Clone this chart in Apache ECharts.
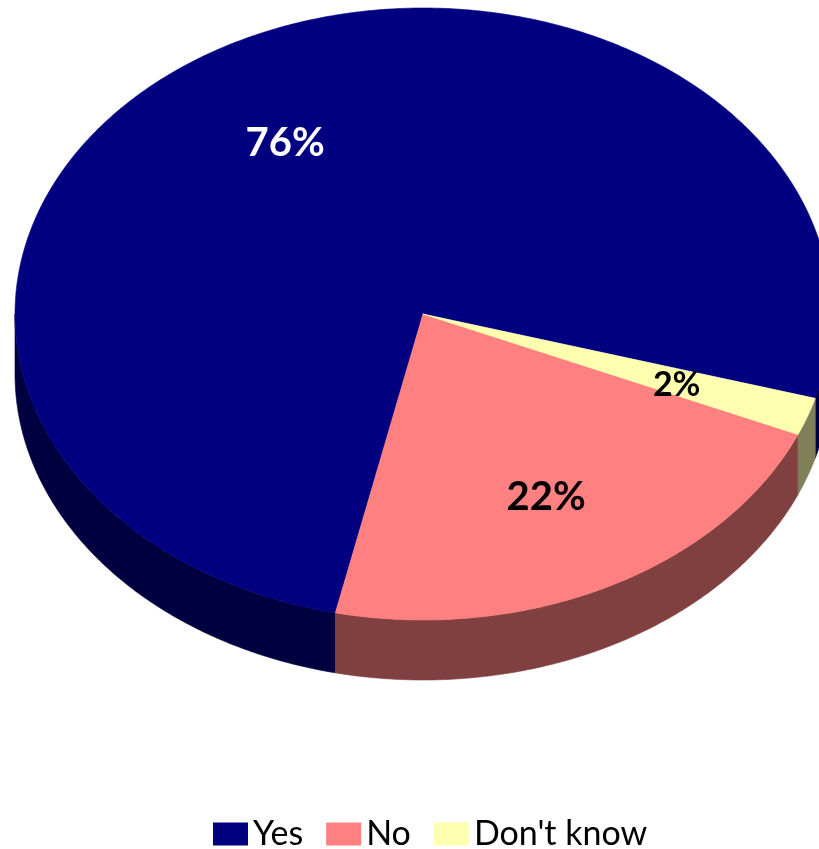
<!DOCTYPE html>
<html>
<head>
<meta charset="utf-8">
<script src="https://cdn.jsdelivr.net/npm/echarts@6/dist/echarts.min.js"></script>
<style>
  html, body { margin: 0; padding: 0; background: #ffffff; }
  #chart { width: 819px; height: 849px; }
</style>
</head>
<body>
<div id="chart"></div>
<script>
// Survey answers and their shares (percent)
const categories = ['Yes', 'No', "Don't know"];
const shares = [76, 22, 2];

// Face colours, rim colours and label colours for each answer
const topColors = ['#000080', '#FF8080', '#FFFFB0'];
const rimColors = ['#000040', '#804040', '#808058'];
const labelColors = ['#ffffff', '#000000', '#000000'];
const labelSizes = [40, 40, 34];

// Tilted-disc layout (pixels / degrees)
const PIE = { cx: 423, cy: 314, rx: 408, ry: 306, depth: 60, startDeg: 16, labelR: 0.66, labelDy: 3 };

// Angular range of each slice, going counter-clockwise from startDeg
const total = shares.reduce((a, b) => a + b, 0);
const ranges = [];
(function () {
  let start = PIE.startDeg;
  shares.forEach(v => {
    const span = 360 * v / total;
    ranges.push([start - span, start]);
    start -= span;
  });
})();

function pt(deg, dy) {
  const r = deg * Math.PI / 180;
  return [PIE.cx + PIE.rx * Math.cos(r), PIE.cy + PIE.ry * Math.sin(r) + dy];
}
function arc(a0, a1, dy) {
  const n = Math.max(2, Math.ceil(Math.abs(a1 - a0) / 0.5));
  const out = [];
  for (let k = 0; k <= n; k++) out.push(pt(a0 + (a1 - a0) * k / n, dy));
  return out;
}

function renderSlice(params, api) {
  const i = params.seriesIndex;
  const [lo, hi] = ranges[i];
  const children = [];

  // visible front rim: parts of the slice lying in the lower half of the ellipse
  [-360, 0, 360].forEach(k => {
    const a = Math.max(lo, k), b = Math.min(hi, k + 180);
    if (b > a) {
      children.push({
        type: 'polygon', z2: 1,
        shape: { points: arc(a, b, 0).concat(arc(b, a, PIE.depth)) },
        style: { fill: rimColors[i], stroke: rimColors[i], lineWidth: 0.6 }
      });
    }
  });

  // top face
  children.push({
    type: 'polygon', z2: 10,
    shape: { points: [[PIE.cx, PIE.cy]].concat(arc(lo, hi, 0)) },
    style: { fill: topColors[i], stroke: topColors[i], lineWidth: 0.6 }
  });

  // percentage label
  const mid = (lo + hi) / 2 * Math.PI / 180;
  children.push({
    type: 'text', z2: 20,
    x: PIE.cx + PIE.labelR * PIE.rx * Math.cos(mid),
    y: PIE.cy + PIE.labelR * PIE.ry * Math.sin(mid) + PIE.labelDy,
    style: {
      text: api.value(0) + '%',
      fill: labelColors[i],
      font: 'bold ' + labelSizes[i] + 'px Lato, "Open Sans", sans-serif',
      align: 'center', verticalAlign: 'middle'
    }
  });

  return { type: 'group', children };
}

const chart = echarts.init(document.getElementById('chart'));
chart.setOption({
  animation: false,
  legend: {
    data: categories,
    left: 213,
    top: 817,
    padding: 0,
    icon: 'rect',
    itemWidth: 35,
    itemHeight: 23,
    itemGap: 23,
    textStyle: { fontSize: 34, fontFamily: 'Lato, "Open Sans", sans-serif', color: '#000000' }
  },
  series: categories.map((name, i) => ({
    type: 'custom',
    name: name,
    coordinateSystem: 'none',
    itemStyle: { color: topColors[i] },
    renderItem: renderSlice,
    data: [[shares[i]]]
  }))
});
</script>
</body>
</html>
